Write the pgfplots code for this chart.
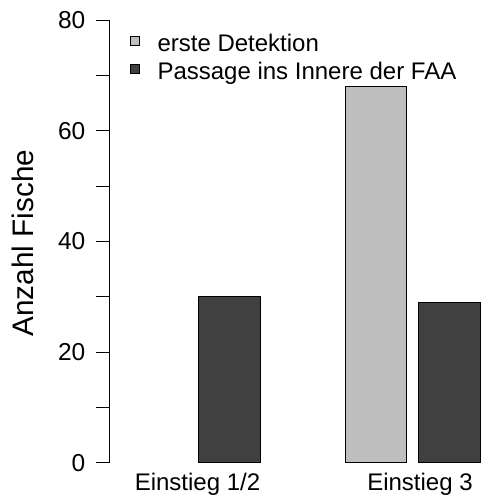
\documentclass[border=0pt]{standalone}
\usepackage{fontspec}
\setmainfont{Liberation Sans}
\usepackage{pgfplots}
\pgfplotsset{compat=1.18}
\definecolor{lightbar}{RGB}{190,190,190}
\definecolor{darkbar}{RGB}{64,64,64}
\newcommand{\tl}[1]{\mbox{\fontsize{24.5}{28}\selectfont #1}}
\begin{document}
\begin{tikzpicture}
\begin{axis}[
  x=1pt, y=5.53pt,
  xmin=109, xmax=481, ymin=0, ymax=80,
  clip=false,
  axis y line*=left,
  axis x line*=bottom,
  x axis line style={draw=none},
  y axis line style={line width=0.9pt, black},
  xtick={197.5,420}, xticklabels={Einstieg 1/2, Einstieg 3},
  xtick style={draw=none},
  ytick={0,10,...,80}, yticklabels={\tl{0},,\tl{20},,\tl{40},,\tl{60},,\tl{80}},
  ytick style={line width=0.9pt, black},
  tick align=outside, major tick length=13pt,
  font=\fontsize{24}{28}\selectfont,
  ticklabel style={font=\fontsize{24}{28}\selectfont},
  /pgf/number format/assume math mode=true,
  yticklabel style={inner sep=0pt, xshift=-10.5pt},
  xticklabel style={anchor=base, inner sep=0pt, yshift=-14.3pt},
  every axis y label/.style={at={(axis cs:33.3,39.7)}, rotate=90, anchor=base, inner sep=0pt, font=\fontsize{29.7}{34}\selectfont},
  ylabel={Anzahl Fische},
  legend style={at={(axis cs:130,77.4)}, anchor=north west, draw=none, fill=none,
    inner sep=0pt, outer sep=0pt, row sep=6.3pt, column sep=17.7pt,
    nodes={inner sep=0pt, text height=17pt, text depth=5pt, font=\fontsize{24}{28}\selectfont}},
  legend cell align=left,
  legend image code/.code={\draw[#1, line width=0.8pt] (0pt,0.2pt) rectangle (9pt,9.2pt);},
]
\addplot[ybar, bar width=61.7, bar shift=0pt, fill=lightbar, draw=black, line width=0.9pt] coordinates {(375.9,68)};
\addlegendentry{erste Detektion}
\addplot[ybar, bar width=61.7, bar shift=0pt, fill=darkbar, draw=black, line width=0.9pt] coordinates {(229.2,30) (449.5,29)};
\addlegendentry{Passage ins Innere der FAA}
\coordinate (bbl) at (axis cs:0,-5.84);
\coordinate (btr) at (axis cs:481,83.67);
\end{axis}
\pgfresetboundingbox
\path[use as bounding box] (bbl) rectangle (btr);
\end{tikzpicture}
\end{document}
